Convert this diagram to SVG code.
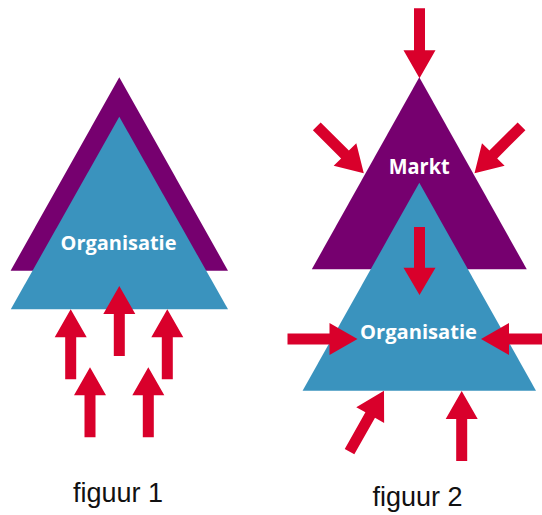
<svg xmlns="http://www.w3.org/2000/svg" xmlns:xlink="http://www.w3.org/1999/xlink" width="542" height="515" viewBox="0 0 542 515">
  <style>
    .purple { fill: #76006f; }
    .blue { fill: #3a93be; }
    .arrow { fill: #d9002b; }
    .lbl { font-family: "Open Sans", "Noto Sans", sans-serif; font-weight: bold; fill: #ffffff; text-anchor: middle; }
    .cap { font-family: "Liberation Sans", Arial, sans-serif; fill: #111111; text-anchor: middle; font-size: 27px; }
  </style>
  <defs>
    <path id="arr" d="M0,0 L16,28 L5.5,28 L5.5,70 L-5.5,70 L-5.5,28 L-16,28 Z"/>
  </defs>
  <rect width="542" height="515" fill="#ffffff"/>

  <!-- figuur 1 -->
  <g id="fig1-markt">
    <polygon class="purple" points="119.3,77.3 228,270.7 10.6,270.7"/>
  </g>
  <g id="fig1-organisatie">
    <polygon class="blue" points="119.3,116.7 228,309.3 10.8,309.3"/>
    <text class="lbl" x="118.5" y="249.5" font-size="20" textLength="116" lengthAdjust="spacingAndGlyphs">Organisatie</text>
  </g>

  <!-- figuur 2 -->
  <g id="fig2-markt">
    <polygon class="purple" points="419.3,77.3 526.8,269.3 311.8,269.3"/>
    <text class="lbl" x="419.2" y="173.5" font-size="21" textLength="61" lengthAdjust="spacingAndGlyphs">Markt</text>
  </g>
  <g id="fig2-organisatie">
    <polygon class="blue" points="419.3,182.7 536,390.7 302.6,390.7"/>
    <text class="lbl" x="418.5" y="338.5" font-size="20" textLength="117" lengthAdjust="spacingAndGlyphs">Organisatie</text>
  </g>

  <g id="connectors">
    <!-- figuur 1 arrows -->
    <use xlink:href="#arr" class="arrow" transform="translate(119.3,286)"/>
    <use xlink:href="#arr" class="arrow" transform="translate(70.7,309.3)"/>
    <use xlink:href="#arr" class="arrow" transform="translate(167.3,309.3)"/>
    <use xlink:href="#arr" class="arrow" transform="translate(90,367.3)"/>
    <use xlink:href="#arr" class="arrow" transform="translate(148.3,367.3)"/>
    <!-- figuur 2 arrows -->
    <use xlink:href="#arr" class="arrow" transform="translate(419.5,78.3) rotate(180)"/>
    <use xlink:href="#arr" class="arrow" transform="translate(363.8,173.3) rotate(135) scale(1,0.95)"/>
    <use xlink:href="#arr" class="arrow" transform="translate(474.5,173.3) rotate(-135) scale(1,0.95)"/>
    <use xlink:href="#arr" class="arrow" transform="translate(419.5,295) rotate(180) scale(1,0.97)"/>
    <use xlink:href="#arr" class="arrow" transform="translate(357.5,339) rotate(90)"/>
    <use xlink:href="#arr" class="arrow" transform="translate(481,339) rotate(-90)"/>
    <use xlink:href="#arr" class="arrow" transform="translate(384,390.7) rotate(29.5)"/>
    <use xlink:href="#arr" class="arrow" transform="translate(461.7,391)"/>
  </g>

  <text class="cap" x="118" y="502">figuur 1</text>
  <text class="cap" x="417.5" y="506">figuur 2</text>
</svg>
